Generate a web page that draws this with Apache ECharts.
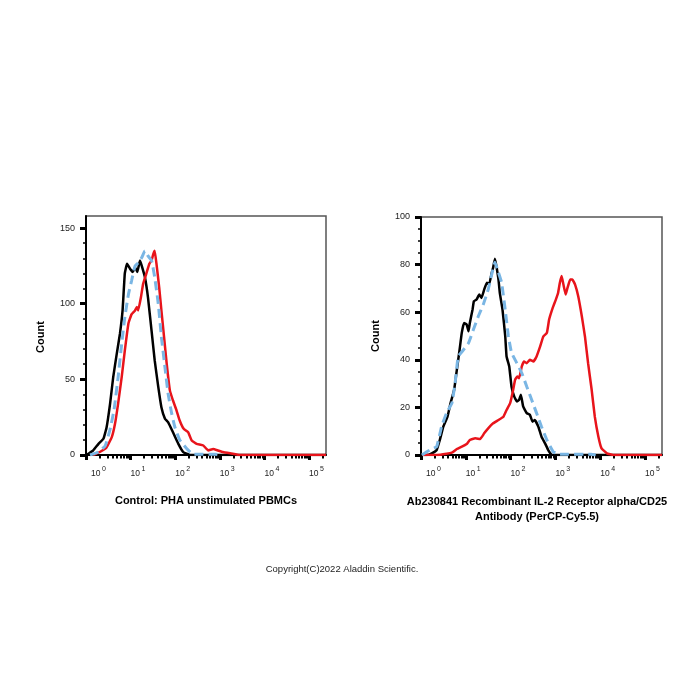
<!DOCTYPE html>
<html><head><meta charset="utf-8">
<script src="https://cdn.jsdelivr.net/npm/echarts@6/dist/echarts.min.js"></script>
<style>html,body{margin:0;padding:0;background:#fff}#c{width:700px;height:700px}</style>
</head><body><div id="c"></div><script>
// x values are decade positions (log10 of fluorescence), y values are event counts
const decadeExponents = [0, 1, 2, 3, 4, 5];
const leftYTicks = [0, 50, 100, 150];
const leftYMinor = [10, 20, 30, 40, 60, 70, 80, 90, 110, 120, 130, 140];
const rightYTicks = [0, 20, 40, 60, 80, 100];
const rightYMinor = [5, 10, 15, 25, 30, 35, 45, 50, 55, 65, 70, 75, 85, 90, 95];

const leftBlack = [[0.01,0],[0.16,3],[0.28,7.4],[0.39,10.7],[0.46,18],[0.54,34],[0.61,51.5],[0.69,67],[0.76,80],[0.82,95.6],[0.87,120],[0.92,126.4],[0.99,123],[1.05,121],[1.10,124],[1.15,121],[1.21,128.6],[1.25,125],[1.32,117.6],[1.39,104],[1.47,82],[1.54,62.5],[1.62,45],[1.69,31.6],[1.77,24],[1.84,21.7],[1.95,15],[2.07,7.4],[2.18,1.9],[2.33,0],[5.38,0]];
const leftRed = [[0.16,0],[0.31,2],[0.46,5],[0.58,12],[0.65,20.6],[0.72,34],[0.80,51.5],[0.87,69],[0.95,86.8],[1.02,93],[1.10,95.6],[1.14,97.8],[1.17,95.6],[1.23,104],[1.28,113],[1.34,118.7],[1.42,126.4],[1.47,128.6],[1.51,133],[1.54,135],[1.58,126.4],[1.64,111],[1.69,95.6],[1.75,78],[1.81,60],[1.88,42.7],[1.95,36],[2.03,29.4],[2.10,22.8],[2.19,17.3],[2.29,15],[2.37,9.6],[2.48,7.4],[2.63,6.3],[2.74,3],[2.85,4],[2.96,3],[3.07,2],[3.26,1],[3.45,0],[5.38,0]];
const leftBlue = [[0.09,0],[0.28,2],[0.43,6],[0.54,17],[0.63,30],[0.72,51.5],[0.80,73.5],[0.87,91],[0.95,106],[1.02,115],[1.10,125],[1.17,127],[1.25,130.5],[1.32,135],[1.39,131.6],[1.47,128.6],[1.54,117.6],[1.62,100],[1.69,78],[1.77,58],[1.84,40.6],[1.92,27.5],[1.99,18.7],[2.10,10],[2.25,4.5],[2.40,0.5],[2.9,0.5],[3.0,0]];

const rightBlack = [[0.02,0],[0.13,0],[0.24,0.7],[0.35,2.1],[0.42,6.3],[0.50,12],[0.59,16],[0.66,21.8],[0.74,27.4],[0.80,35.8],[0.86,44],[0.91,51.3],[0.96,55.5],[1.02,54.8],[1.06,52],[1.09,55.5],[1.15,61],[1.18,64.6],[1.24,65.3],[1.30,67.4],[1.35,66],[1.41,69.5],[1.47,72.4],[1.52,71.6],[1.58,76.6],[1.61,78.7],[1.65,82.5],[1.69,78.7],[1.73,73.7],[1.76,68],[1.82,61],[1.88,50],[1.91,41.4],[1.97,37.2],[2.02,28.8],[2.08,24.6],[2.14,22.5],[2.19,23.2],[2.23,25.3],[2.28,20.4],[2.36,17.6],[2.43,16.9],[2.49,14],[2.54,14.7],[2.62,11.9],[2.69,7.7],[2.77,4.9],[2.84,2.1],[2.92,0],[5.38,0]];
const rightRed = [[0.02,0],[0.35,0],[0.57,0.5],[0.69,1],[0.80,2.5],[0.91,3.5],[1.02,4.6],[1.09,6.3],[1.21,7],[1.32,6.7],[1.41,9.1],[1.50,11.2],[1.61,13.3],[1.73,14.7],[1.84,16.1],[1.91,18.9],[1.99,21.8],[2.05,26.7],[2.10,31.6],[2.15,33],[2.19,32.3],[2.25,37.2],[2.30,39.3],[2.36,38.6],[2.43,40],[2.51,39.3],[2.58,41.4],[2.66,45.6],[2.73,49.8],[2.81,51.3],[2.86,56.9],[2.94,61.8],[3.01,65.3],[3.06,68.1],[3.10,72.4],[3.14,75.2],[3.18,71.6],[3.23,67.4],[3.27,70.2],[3.33,73.7],[3.38,73.7],[3.44,71.6],[3.51,66.7],[3.59,58.3],[3.66,49.8],[3.73,38.6],[3.81,27.4],[3.88,16.1],[3.96,7.7],[4.03,2.8],[4.15,0.7],[4.29,0],[5.38,0]];
const rightBlue = [[0.02,0],[0.13,1.4],[0.24,2.5],[0.35,3.5],[0.46,12],[0.57,17.6],[0.69,21.8],[0.76,30],[0.83,41.4],[0.94,44],[1.06,47],[1.17,52.7],[1.28,58.3],[1.39,63.2],[1.50,69.5],[1.58,76],[1.65,81],[1.73,76.6],[1.80,72.4],[1.88,61],[1.95,50],[2.02,43],[2.14,38.6],[2.25,34.4],[2.36,28.8],[2.47,23.2],[2.58,17.6],[2.69,11.9],[2.81,6.3],[2.95,1.4],[3.10,0.3],[3.8,0.3],[3.9,0]];

const minorX = [];
for (let d = 0; d <= 5; d++) for (let m = 2; m <= 9; m++) { const v = d + Math.log10(m); if (v < 5.38) minorX.push(v); }

const FONT = "'Liberation Sans', Arial, sans-serif";
const XMAX = 5.38;

function xMajor(grid) {
  return {
    gridIndex: grid, type: 'value', min: 0, max: XMAX, position: 'bottom',
    axisLine: { show: true, onZero: false, lineStyle: { color: '#000', width: 2 } },
    axisTick: { show: true, customValues: decadeExponents, length: 5, lineStyle: { color: '#000', width: 3 } },
    axisLabel: {
      customValues: decadeExponents, align: 'left', margin: 11,
      formatter: v => (Math.round(v) === 0 ? '{b0|10}{s|0}' : '{b|10}{s|' + Math.round(v) + '}'),
      rich: {
        b: { fontSize: 8.5, fontFamily: FONT, color: '#222', lineHeight: 12, verticalAlign: 'bottom' },
        b0: { fontSize: 8.5, fontFamily: FONT, color: '#222', lineHeight: 12, verticalAlign: 'bottom', padding: [0, 0, 0, 5] },
        s: { fontSize: 7, fontFamily: FONT, color: '#222', verticalAlign: 'top', padding: [0, 0, 0, 1.5] }
      }
    },
    splitLine: { show: false }
  };
}
function xMinor(grid) {
  return {
    gridIndex: grid, type: 'value', min: 0, max: XMAX, position: 'bottom',
    axisLine: { show: false, onZero: false },
    axisTick: { show: true, customValues: minorX, length: 3.5, lineStyle: { color: '#000', width: 2 } },
    axisLabel: { show: false }, splitLine: { show: false }
  };
}
function yMajor(grid, max, ticks) {
  return {
    gridIndex: grid, type: 'value', min: 0, max: max, position: 'left',
    axisLine: { show: true, onZero: false, lineStyle: { color: '#000', width: 2 } },
    axisTick: { show: true, customValues: ticks, length: 6, lineStyle: { color: '#000', width: 3 } },
    axisLabel: { customValues: ticks, fontSize: 9, fontFamily: FONT, color: '#222', margin: 11 },
    splitLine: { show: false }
  };
}
function yMinor(grid, max, ticks) {
  return {
    gridIndex: grid, type: 'value', min: 0, max: max, position: 'left',
    axisLine: { show: false, onZero: false },
    axisTick: { show: true, customValues: ticks, length: 3, lineStyle: { color: '#000', width: 1.5 } },
    axisLabel: { show: false }, splitLine: { show: false }
  };
}
function line(data, xi, yi, color, width, dashed, z) {
  return {
    type: 'line', xAxisIndex: xi, yAxisIndex: yi, data: data, showSymbol: false, smooth: 0.1,
    lineStyle: { color: color, width: width, type: dashed ? [9, 5] : 'solid' }, z: z, silent: true, animation: false
  };
}

const chart = echarts.init(document.getElementById('c'), null, { renderer: 'canvas' });
chart.setOption({
  backgroundColor: '#fff',
  animation: false,
  grid: [
    { left: 86, top: 216, width: 240, height: 239, show: true, borderColor: '#555', borderWidth: 1.5, backgroundColor: 'transparent' },
    { left: 421, top: 217, width: 241, height: 238, show: true, borderColor: '#555', borderWidth: 1.5, backgroundColor: 'transparent' }
  ],
  xAxis: [xMajor(0), xMinor(0), xMajor(1), xMinor(1)],
  yAxis: [yMajor(0, 158, leftYTicks), yMinor(0, 158, leftYMinor), yMajor(1, 100, rightYTicks), yMinor(1, 100, rightYMinor)],
  series: [
    line(leftBlack, 0, 0, '#000000', 2.5, false, 3),
    line(leftRed, 0, 0, '#e8141b', 2.5, false, 4),
    line(leftBlue, 0, 0, '#7ab6e4', 3, true, 5),
    line(rightBlack, 2, 2, '#000000', 2.5, false, 3),
    line(rightRed, 2, 2, '#e8141b', 2.5, false, 4),
    line(rightBlue, 2, 2, '#7ab6e4', 3, true, 5)
  ],
  graphic: [
    { type: 'text', x: 41, y: 337, rotation: Math.PI / 2, style: { text: 'Count', font: "bold 11px 'Liberation Sans', Arial", fill: '#000', align: 'center', verticalAlign: 'middle' } },
    { type: 'text', x: 376, y: 336, rotation: Math.PI / 2, style: { text: 'Count', font: "bold 11px 'Liberation Sans', Arial", fill: '#000', align: 'center', verticalAlign: 'middle' } },
    { type: 'text', x: 206, y: 501, style: { text: 'Control: PHA unstimulated PBMCs', font: "bold 11px 'Liberation Sans', Arial", fill: '#000', align: 'center', verticalAlign: 'middle' } },
    { type: 'text', x: 537, y: 509, style: { text: 'Ab230841 Recombinant IL-2 Receptor alpha/CD25\nAntibody (PerCP-Cy5.5)', font: "bold 11px 'Liberation Sans', Arial", lineHeight: 15, fill: '#000', align: 'center', verticalAlign: 'middle' } },
    { type: 'text', x: 342, y: 569, style: { text: 'Copyright(C)2022 Aladdin Scientific.', font: "9.5px 'Liberation Sans', Arial", fill: '#222', align: 'center', verticalAlign: 'middle' } }
  ]
});
</script></body></html>
